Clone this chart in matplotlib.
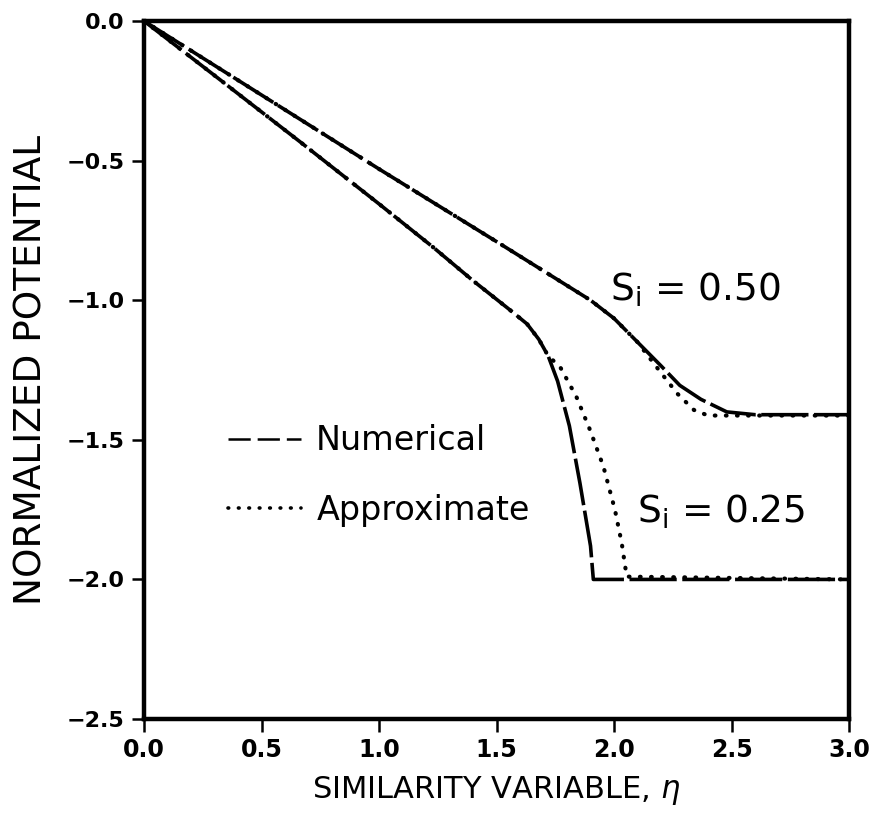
import matplotlib.pyplot as plt
from matplotlib.lines import Line2D

plt.rcParams['font.family'] = 'DejaVu Sans'
plt.rcParams['lines.scale_dashes'] = False

# Datos
eta_num_50 = [0, 0.5, 1.0, 1.5, 1.9, 2.0, 2.1, 2.2, 2.28, 2.37, 2.48, 2.6, 3.0]
phi_num_50 = [0, -0.265, -0.53, -0.79, -1.0, -1.065, -1.15, -1.235, -1.305, -1.355, -1.40, -1.41, -1.41]

eta_apx_50 = [0, 0.5, 1.0, 1.5, 1.9, 2.0, 2.1, 2.2, 2.27, 2.34, 2.4, 3.0]
phi_apx_50 = [0, -0.265, -0.53, -0.79, -1.0, -1.065, -1.15, -1.26, -1.335, -1.393, -1.413, -1.413]

eta_num_25 = [0, 0.3, 0.66, 1.0, 1.23, 1.4, 1.55, 1.63, 1.68, 1.72, 1.76, 1.81, 1.855, 1.9, 1.912, 3.0]
phi_num_25 = [0, -0.195, -0.43, -0.655, -0.81, -0.93, -1.03, -1.085, -1.14, -1.2, -1.29, -1.45, -1.655, -1.88, -2.0, -2.0]

eta_apx_25 = [0, 0.3, 0.66, 1.0, 1.23, 1.4, 1.55, 1.63, 1.68, 1.72, 1.77, 1.84, 1.898, 1.955, 2.004, 2.033, 2.054, 3.0]
phi_apx_25 = [0, -0.195, -0.43, -0.655, -0.81, -0.93, -1.03, -1.085, -1.14, -1.2, -1.238, -1.346, -1.465, -1.596, -1.751, -1.871, -1.99, -2.0]

xticks = [0.0, 0.5, 1.0, 1.5, 2.0, 2.5, 3.0]
yticks = [0.0, -0.5, -1.0, -1.5, -2.0, -2.5]

dash_num = (0, (34, 4))
dash_apx = (0, (0.5, 7.5))

fig = plt.figure(figsize=(8.76, 8.21), dpi=100)
ax = fig.add_axes([0.1644, 0.1242, 0.8048, 0.8502])

# Curvas aproximadas (punteadas) debajo de las numericas
for x, y in [(eta_apx_50, phi_apx_50), (eta_apx_25, phi_apx_25)]:
    ax.plot(x, y, color='black', lw=3.0, linestyle=dash_apx, dash_capstyle='round')
for x, y in [(eta_num_50, phi_num_50), (eta_num_25, phi_num_25)]:
    ax.plot(x, y, color='black', lw=2.6, linestyle=dash_num)

ax.set_xlim(0, 3)
ax.set_ylim(-2.5, 0)
ax.set_xticks(xticks)
ax.set_yticks(yticks)
ax.set_xticklabels([f"{t:.1f}" for t in xticks], fontsize=17, fontweight='bold')
ax.set_yticklabels([f"{t:.1f}".replace('-', '\u2212') for t in yticks], fontsize=16, fontweight='bold')
ax.tick_params(direction='out', length=9, width=1.8, pad=5)
for s in ax.spines.values():
    s.set_linewidth(3.2)

ax.set_xlabel(r"SIMILARITY VARIABLE, $\eta$", fontsize=22, labelpad=8)
ax.set_ylabel("NORMALIZED POTENTIAL", fontsize=27, labelpad=12)

ax.text(1.983, -0.963, r"S$_\mathregular{i}$ = 0.50", fontsize=27, va='center', ha='left')
ax.text(2.098, -1.759, r"S$_\mathregular{i}$ = 0.25", fontsize=27, va='center', ha='left')

# Leyenda
handles = [Line2D([], [], color='black', lw=1.8, linestyle=(0, (16, 5))),
           Line2D([], [], color='black', lw=2.6, linestyle=(0, (0.5, 7)), dash_capstyle='round')]
ax.legend(handles, ["Numerical", "Approximate"], loc='upper left',
          bbox_to_anchor=(0.119, 0.422), frameon=False, fontsize=24,
          handlelength=2.2, handletextpad=0.45, labelspacing=1.1,
          borderpad=0, borderaxespad=0)

fig.savefig("out.png", dpi=100)
